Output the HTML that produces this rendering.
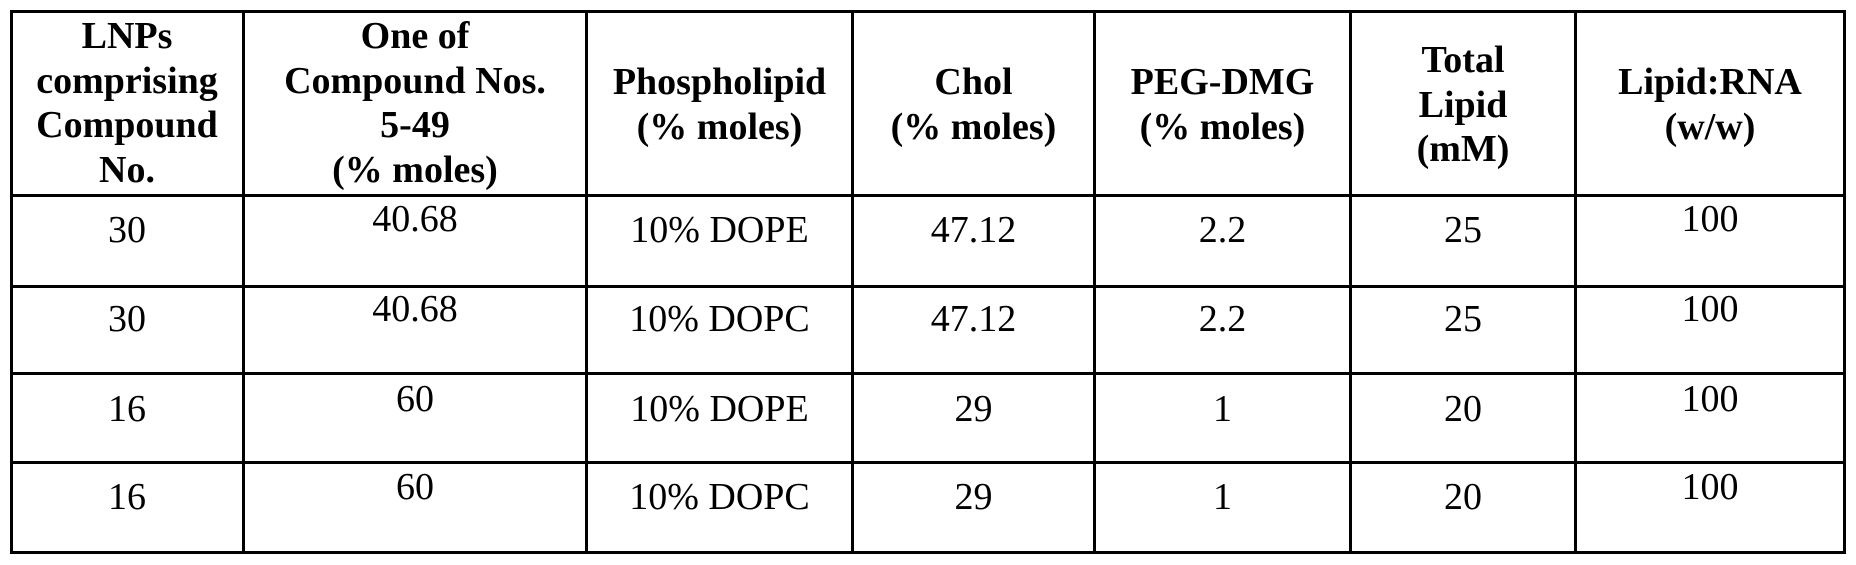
<!DOCTYPE html>
<html>
<head>
<meta charset="utf-8">
<style>
  html, body { margin:0; padding:0; background:#fff; }
  body { width:1856px; height:565px; position:relative; overflow:hidden;
         font-family:"Liberation Serif","Times New Roman",serif; color:#000; }
  .v { position:absolute; top:10px; width:3px; height:544px; background:#000; }
  .h { position:absolute; left:10px; width:1836px; height:3px; background:#000; }
  .t { position:absolute; text-align:center; font-size:38px; white-space:nowrap; }
  .hd { font-weight:bold; line-height:44.5px; }
  .bd { line-height:45px; }
  .c1 { left:12px; width:230px; }
  .c2 { left:245px; width:340px; }
  .c3 { left:588px; width:263px; }
  .c4 { left:854px; width:239px; }
  .c5 { left:1096px; width:253px; }
  .c6 { left:1352px; width:222px; }
  .c7 { left:1577px; width:266px; }
</style>
</head>
<body>
  <!-- vertical lines -->
  <div class="v" style="left:10px"></div>
  <div class="v" style="left:242px"></div>
  <div class="v" style="left:585px"></div>
  <div class="v" style="left:851px"></div>
  <div class="v" style="left:1093px"></div>
  <div class="v" style="left:1349px"></div>
  <div class="v" style="left:1574px"></div>
  <div class="v" style="left:1843px"></div>
  <!-- horizontal lines -->
  <div class="h" style="top:10px"></div>
  <div class="h" style="top:194px"></div>
  <div class="h" style="top:285px"></div>
  <div class="h" style="top:372px"></div>
  <div class="h" style="top:461px"></div>
  <div class="h" style="top:551px"></div>

  <!-- header -->
  <div class="t hd c1" style="top:14px">LNPs<br>comprising<br>Compound<br>No.</div>
  <div class="t hd c2" style="top:14px">One of<br>Compound Nos.<br>5-49<br>(% moles)</div>
  <div class="t hd c3" style="top:60px">Phospholipid<br>(% moles)</div>
  <div class="t hd c4" style="top:60px">Chol<br>(% moles)</div>
  <div class="t hd c5" style="top:60px">PEG-DMG<br>(% moles)</div>
  <div class="t hd c6" style="top:38px">Total<br>Lipid<br>(mM)</div>
  <div class="t hd c7" style="top:60px">Lipid:RNA<br>(w/w)</div>

  <!-- row 1 -->
  <div class="t bd c1" style="top:207.6px">30</div>
  <div class="t bd c2" style="top:196.6px">40.68</div>
  <div class="t bd c3" style="top:207.6px">10% DOPE</div>
  <div class="t bd c4" style="top:207.6px">47.12</div>
  <div class="t bd c5" style="top:207.6px">2.2</div>
  <div class="t bd c6" style="top:207.6px">25</div>
  <div class="t bd c7" style="top:196.6px">100</div>

  <!-- row 2 -->
  <div class="t bd c1" style="top:296.6px">30</div>
  <div class="t bd c2" style="top:286.6px">40.68</div>
  <div class="t bd c3" style="top:296.6px">10% DOPC</div>
  <div class="t bd c4" style="top:296.6px">47.12</div>
  <div class="t bd c5" style="top:296.6px">2.2</div>
  <div class="t bd c6" style="top:296.6px">25</div>
  <div class="t bd c7" style="top:286.6px">100</div>

  <!-- row 3 -->
  <div class="t bd c1" style="top:386.6px">16</div>
  <div class="t bd c2" style="top:376.6px">60</div>
  <div class="t bd c3" style="top:386.6px">10% DOPE</div>
  <div class="t bd c4" style="top:386.6px">29</div>
  <div class="t bd c5" style="top:386.6px">1</div>
  <div class="t bd c6" style="top:386.6px">20</div>
  <div class="t bd c7" style="top:376.6px">100</div>

  <!-- row 4 -->
  <div class="t bd c1" style="top:474.6px">16</div>
  <div class="t bd c2" style="top:464.6px">60</div>
  <div class="t bd c3" style="top:474.6px">10% DOPC</div>
  <div class="t bd c4" style="top:474.6px">29</div>
  <div class="t bd c5" style="top:474.6px">1</div>
  <div class="t bd c6" style="top:474.6px">20</div>
  <div class="t bd c7" style="top:464.6px">100</div>
</body>
</html>
